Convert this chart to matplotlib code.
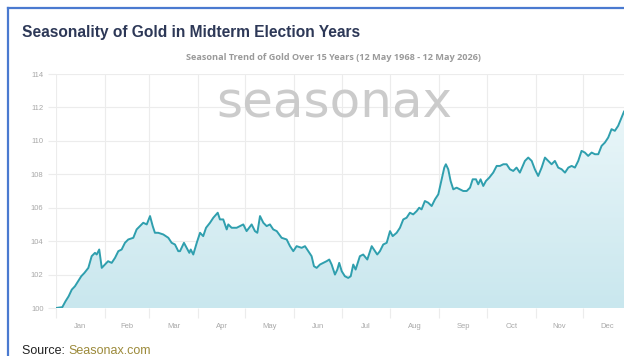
import matplotlib.pyplot as plt
import matplotlib as mpl
import numpy as np
from matplotlib.lines import Line2D
from matplotlib.colors import LinearSegmentedColormap

mpl.rcParams['font.family'] = ['Liberation Sans', 'DejaVu Sans']

# seasonal index (day of year, index value)
days = [0, 4, 6, 8, 10, 12, 14, 16, 18, 20.5, 22.6, 24.7, 25.8, 27.4, 29, 31, 33, 35.3,
        37.4, 39.5, 41.6, 43.7, 45.8, 49, 51.1, 53.2, 55.3, 57.5, 59.6, 61.3, 62.7, 64.8,
        68, 71.2, 73.3, 75.4, 77.5, 78.6, 81.1, 82.8, 84.5, 85.4, 87, 89.2, 91.3, 93.3,
        95.1, 97.6, 99.7, 102.5, 103.9, 106, 108.2, 109.2, 111.3, 114.5, 116.6, 118.7,
        120.8, 124, 126.1, 127.6, 129.3, 131.4, 133.5, 135.6, 137.7, 139.9, 143, 146.2,
        148.3, 150.4, 152.5, 155.7, 157.8, 159.9, 162, 163.5, 165.2, 167.3, 169.4, 171.5,
        173.2, 174.7, 176.8, 178.3, 179.5, 181.1, 183.1, 185.2, 186.8, 188.4, 189.9,
        192.6, 194.7, 197.3, 200.1, 202.2, 203.6, 205.3, 207.4, 209.6, 211.7, 213.4,
        215.9, 218, 220.1, 222.2, 224.3, 226.4, 228.6, 230.2, 231.7, 233.8, 235.9, 238.1,
        240.2, 242.3, 244.4, 246.1, 247.1, 248.6, 250.1, 251.8, 253.9, 256, 258.1, 260.3,
        262.4, 264.1, 266.2, 267.6, 269.1, 270.8, 272.5, 274.6, 277.1, 279.3, 281.4,
        283.5, 285.6, 287.7, 289.8, 291.9, 294, 297.2, 299.3, 301.5, 303.5, 305.6, 307.8,
        309.9, 312, 314.1, 316.2, 318.3, 320.5, 322.6, 324.7, 326.8, 328.9, 331, 333.1,
        335.2, 337.3, 339.5, 341.6, 343.7, 345.8, 347.9, 350, 352.1, 354.2, 356.3, 358.5,
        360]
index = [100.0, 100.05, 100.4, 100.7, 101.1, 101.3, 101.6, 101.9, 102.1, 102.4, 103.1,
         103.3, 103.2, 103.5, 102.4, 102.6, 102.8, 102.7, 103.0, 103.4, 103.5, 103.9,
         104.1, 104.2, 104.7, 104.9, 105.1, 105.0, 105.5, 104.9, 104.5, 104.5, 104.4,
         104.2, 103.9, 103.8, 103.4, 103.4, 103.9, 103.6, 103.3, 103.5, 103.2, 103.9,
         104.5, 104.3, 104.8, 105.1, 105.4, 105.7, 105.3, 105.3, 104.7, 105.0, 104.8,
         104.8, 104.9, 105.0, 104.6, 105.0, 104.6, 104.5, 105.5, 105.1, 104.9, 105.0,
         104.7, 104.6, 104.2, 104.1, 103.7, 103.4, 103.7, 103.6, 103.7, 103.4, 103.1,
         102.5, 102.4, 102.6, 102.7, 102.8, 102.9, 102.6, 102.0, 102.3, 102.7, 102.2,
         101.9, 101.8, 101.9, 102.6, 102.3, 103.1, 103.2, 102.9, 103.7, 103.4, 103.2,
         103.4, 103.8, 103.9, 104.6, 104.3, 104.5, 104.8, 105.3, 105.4, 105.7, 105.6,
         105.8, 106.0, 105.9, 106.4, 106.3, 106.1, 106.5, 106.8, 107.7, 108.4, 108.6,
         108.3, 107.6, 107.1, 107.2, 107.1, 107.0, 107.0, 107.2, 107.7, 107.7, 107.4,
         107.7, 107.3, 107.6, 107.8, 108.1, 108.5, 108.5, 108.6, 108.6, 108.3, 108.2,
         108.4, 108.1, 108.8, 109.0, 108.8, 108.3, 107.9, 108.4, 109.0, 108.8, 108.6,
         108.8, 108.4, 108.3, 108.1, 108.4, 108.5, 108.4, 108.8, 109.4, 109.3, 109.1,
         109.3, 109.2, 109.2, 109.7, 109.9, 110.2, 110.7, 110.6, 110.9, 111.4, 111.75]

month_start = [0, 31, 59, 90, 120, 151, 181, 212, 243, 273, 304, 334]
month_mid = [15.5, 45, 74.5, 105, 135.5, 166, 196.5, 227.5, 258, 288.5, 319, 349.5]
month_names = ['Jan', 'Feb', 'Mar', 'Apr', 'May', 'Jun', 'Jul', 'Aug', 'Sep', 'Oct', 'Nov', 'Dec']
y_ticks = [100, 102, 104, 106, 108, 110, 112, 114]

line_col = '#2f9fae'
grid_col = '#ececec'
lab_col = '#a8a8a8'

fig = plt.figure(figsize=(6.24, 3.56), dpi=100)
ax = fig.add_axes([56/624, 48/356, 568/624, 234/356])

# gradient fill under the curve
cmap = LinearSegmentedColormap.from_list('fill', ['#c9e7ee', '#f0f9fb'])
grad = np.linspace(0, 1, 256).reshape(-1, 1)
img = ax.imshow(grad, extent=[0, 360, 100, 114], origin='lower', aspect='auto',
                cmap=cmap, zorder=1)
poly = ax.fill_between(days, index, 100, color='none', lw=0)
clip = poly.get_paths()[0]
img.set_clip_path(clip, transform=ax.transData)
ax.plot(days, index, color=line_col, lw=1.4, zorder=3, solid_joinstyle='round')

ax.set_xlim(0, 360)
ax.set_ylim(100, 114)
for s in ax.spines.values():
    s.set_visible(False)

ax.set_yticks(y_ticks)
ax.set_yticklabels([str(v) for v in y_ticks])
ax.set_xticks(month_start)
ax.set_xticklabels([])
ax.set_xticks(month_mid, minor=True)
ax.set_xticklabels(month_names, minor=True)
ax.tick_params(axis='x', which='major', length=7, color=grid_col, width=0.8)
ax.tick_params(axis='x', which='minor', length=0, pad=11, labelsize=5.5, labelcolor=lab_col)
ax.tick_params(axis='y', length=6, color=grid_col, width=0.8, pad=3,
               labelsize=5.5, labelcolor=lab_col)
ax.grid(True, which='major', color=grid_col, lw=0.8, zorder=0)
ax.set_axisbelow(True)

# watermark
fig.text(334/624, 1 - 103/356, 'seasonax', fontsize=36, color='#cbcbcb',
         family='DejaVu Sans', ha='center', va='center', zorder=0)

fig.text(22/624, 1 - 33/356, 'Seasonality of Gold in Midterm Election Years',
         fontsize=11.2, fontweight='bold', color='#2d3857', ha='left', va='center')
fig.text(333/624, 1 - 57/356, 'Seasonal Trend of Gold Over 15 Years (12 May 1968 - 12 May 2026)',
         fontsize=6.6, fontweight='bold', color='#9a9a9a', ha='center', va='center',
         family=['Open Sans', 'DejaVu Sans'])

t = fig.text(22/624, 1 - 345/356, 'Source: ', fontsize=9, color='#222222', ha='left', va='top')
fig.canvas.draw()
bb = t.get_window_extent()
fig.text(bb.x1/624, 1 - 345/356, 'Seasonax.com', fontsize=9, color='#9c8a3a',
         ha='left', va='top')

# frame border (left and top)
fig.add_artist(Line2D([8/624, 8/624], [0, 1 - 8/356], color='#4a7ad0', lw=1.6))
fig.add_artist(Line2D([8/624, 1], [1 - 8/356, 1 - 8/356], color='#4a7ad0', lw=1.6))

fig.savefig('out.png', dpi=100)
